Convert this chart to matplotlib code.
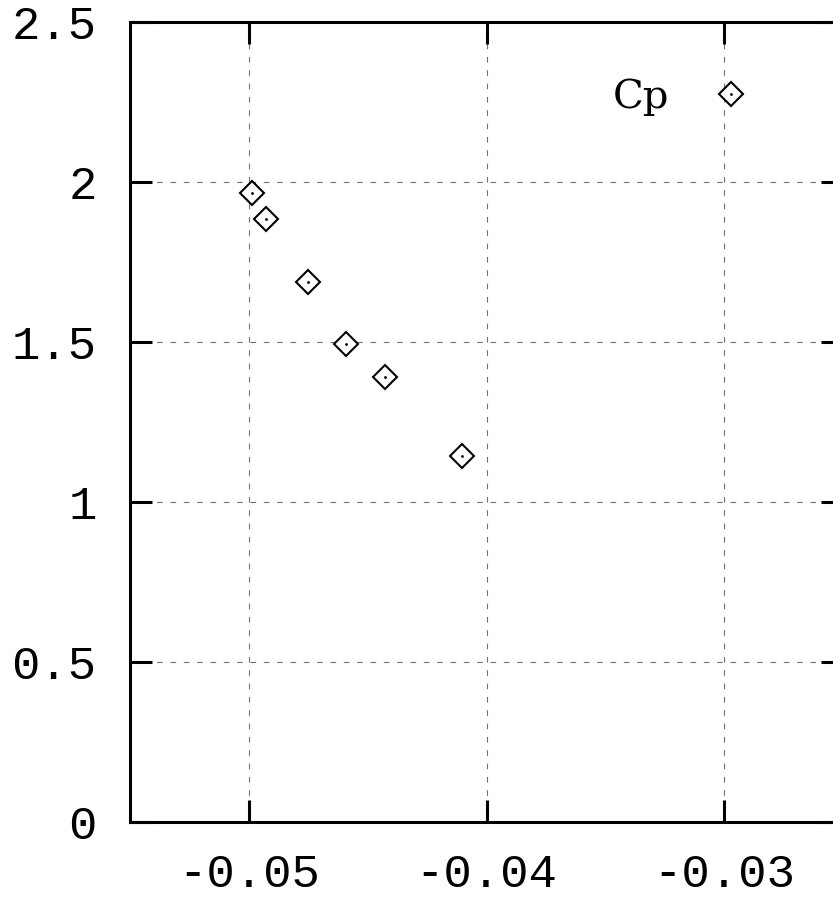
import matplotlib
matplotlib.use('Agg')
import matplotlib.pyplot as plt
from matplotlib.legend_handler import HandlerTuple

# Cp against x
x_vals = [-0.04986, -0.04928, -0.04753, -0.04591, -0.04425, -0.04103]
cp_vals = [1.967, 1.884, 1.687, 1.494, 1.391, 1.145]

xticks = [-0.05, -0.04, -0.03]
xtick_labels = ['-0.05', '-0.04', '-0.03']
yticks = [0, 0.5, 1, 1.5, 2, 2.5]
ytick_labels = ['0', '0.5', '1', '1.5', '2', '2.5']

W, H = 833, 897
fig = plt.figure(figsize=(W/100, H/100), dpi=100)
# right edge of the frame sits outside the picture, like the reference
ax = fig.add_axes([130/W, 75/H, 713/W, 800/H])

ax.set_xlim(-0.055, -0.025)
ax.set_ylim(0, 2.5)

# grid
for xt in xticks:
    ax.axvline(xt, color='#707070', lw=0.8, dashes=(5, 7), zorder=1)
for yt in yticks:
    ax.axhline(yt, color='#707070', lw=0.8, dashes=(5, 7), zorder=1)

diam, = ax.plot(x_vals, cp_vals, ls='none', marker='D', ms=12.5, mfc='white',
                mec='black', mew=1.5, zorder=3)
dot, = ax.plot(x_vals, cp_vals, ls='none', marker='.', ms=2, color='black', zorder=4)

for s in ax.spines.values():
    s.set_linewidth(2.2)

ax.set_xticks(xticks)
ax.set_xticklabels(xtick_labels)
ax.set_yticks(yticks)
ax.set_yticklabels(ytick_labels)
ax.tick_params(direction='in', length=15.5, width=2.2, top=True, right=True,
               labelsize=34)
ax.tick_params(axis='x', pad=22)
ax.tick_params(axis='y', pad=24)
for lab in ax.get_xticklabels() + ax.get_yticklabels():
    lab.set_family('Liberation Mono')

leg = ax.legend([(diam, dot)], ['Cp'], handler_map={tuple: HandlerTuple(ndivide=1)},
                loc='center right', bbox_to_anchor=(0.8598, 0.906), frameon=False,
                markerfirst=False, handlelength=0.6, handletextpad=1.24,
                borderpad=0, borderaxespad=0,
                prop={'family': 'DejaVu Serif', 'size': 29})

fig.savefig('out.png', dpi=100)
